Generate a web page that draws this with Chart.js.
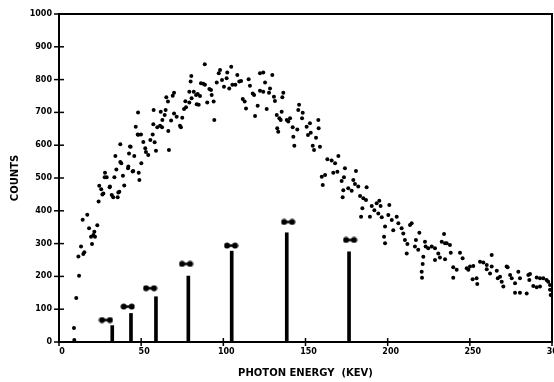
<!DOCTYPE html>
<html>
<head>
<meta charset="utf-8">
<script src="https://cdn.jsdelivr.net/npm/chart.js@4/dist/chart.umd.min.js"></script>
<style>
  html, body { margin: 0; padding: 0; background: #fff; }
  #wrap { width: 554px; height: 382px; }
</style>
</head>
<body>
<div id="wrap"><canvas id="c" width="554" height="382"></canvas></div>
<script>
// Measured spectrum: photon energy (keV) and counts for each channel point
const energy = [
  9.3, 9.1, 10.5, 12.2, 11.8, 13.4, 14.8, 15.4, 20.1, 19.5, 20.9, 21.9, 18.3, 23.3, 14.4, 17.2, 21.5,
  24.1, 24.5, 25.7, 27.0, 27.8, 29.0, 28.0, 30.8, 32.1, 33.0, 35.7, 36.7, 33.7, 34.9, 38.9, 39.7,
  37.3, 37.9, 34.3, 37.3, 42.0, 44.8, 42.6, 43.6, 48.5, 48.9, 50.1, 46.7, 48.1, 48.3, 49.9, 51.3,
  52.5, 52.9, 54.3, 55.6,
  26.4, 31.0, 36.1, 42.2, 45.2, 43.2, 45.8, 47.9,
  59.0, 66.9, 58.2, 57.0, 57.4, 59.8, 61.5, 62.7, 62.9, 66.5, 68.2, 70.0, 71.6, 73.6, 74.2, 75.0,
  76.1, 77.3, 76.9, 79.3, 80.7, 79.3, 82.0, 83.4, 83.8, 85.0, 84.4, 85.8, 64.9, 64.3, 65.3, 66.3,
  69.2, 70.0, 57.6, 61.9, 80.1, 80.5, 86.4, 87.8, 88.8, 88.7, 91.5, 92.5, 92.9, 94.1, 90.2, 94.5,
  96.0, 97.2, 98.0, 99.2, 100.4, 102.0, 102.4, 103.6, 104.8, 105.5, 107.3, 108.5, 109.7,
  122.3, 124.3, 129.8, 125.4, 115.4, 116.2, 110.8, 122.3, 124.3, 128.4, 127.8, 117.9, 118.7, 111.8,
  113.0, 113.8, 120.9, 126.4, 130.8, 131.4, 136.5, 135.9, 119.3, 132.5, 134.1, 134.9, 135.5, 138.6,
  140.6, 139.5, 132.8, 133.4, 142.2, 145.0, 146.1, 145.6, 148.3, 147.9, 142.6, 143.2, 150.7, 152.7,
  151.5, 153.2, 157.8, 158.0, 156.4, 154.4, 155.2, 158.8, 163.3, 161.9, 159.9, 160.5,
  170.0, 168.0, 165.9, 166.9, 169.4, 174.0, 180.7, 173.4, 172.0, 179.1, 180.1, 173.0, 176.0, 178.1,
  172.6, 182.1, 187.2, 183.2, 185.2, 186.8, 184.6, 183.8, 189.2, 190.3, 191.9, 193.3, 194.9, 195.7,
  194.3, 196.4, 201.0, 200.4, 202.5, 205.5, 198.4, 197.8, 198.4, 203.4, 206.5, 208.5, 209.5, 213.6,
  214.6, 210.5, 212.0, 211.6, 217.2, 219.3, 216.6, 218.6, 222.7, 223.1, 224.7, 221.7, 221.3, 220.7,
  220.9,
  234.3, 232.9, 234.9, 237.9, 226.8, 228.8, 230.8, 231.8, 234.9, 228.8, 238.4, 244.0, 245.6, 239.9,
  242.0, 239.9, 248.1, 250.1, 252.1, 256.2, 258.2, 263.3, 263.3, 260.3, 262.3, 251.7, 254.5, 266.4,
  267.0, 269.4, 273.0, 274.5, 275.5, 277.5, 279.5, 280.5, 277.5, 280.5, 284.6, 286.6, 286.2, 288.6,
  290.7, 292.7, 294.7, 296.7, 297.7, 298.8, 299.2,
  235.9, 260.3, 249.1, 254.1, 272.4, 285.6, 270.4, 290.7, 292.7, 298.8, 268.4
];
const counts = [
  6, 43, 134, 202, 261, 291, 268, 274, 299, 321, 326, 321, 347, 356, 373, 388, 336,
  428, 476, 466, 453, 502, 502, 516, 472, 448, 441, 441, 458, 502, 526, 507, 477,
  549, 545, 567, 603, 530, 520, 575, 595, 516, 494, 545, 656, 700, 632, 633, 610,
  591, 579, 570, 616,
  450, 474, 456, 535, 521, 596, 567, 633,
  583, 585, 609, 633, 664, 655, 659, 655, 677, 643, 675, 697, 687, 659, 655, 684,
  710, 716, 734, 730, 743, 763, 763, 753, 725, 723, 756, 750, 707, 692, 746, 733,
  751, 760, 707, 702, 794, 811, 789, 787, 784, 847, 771, 768, 753, 733, 730, 677,
  791, 819, 829, 799, 778, 804, 822, 773, 839, 784, 784, 814, 794,
  819, 822, 814, 791, 801, 781, 796, 766, 763, 773, 760, 758, 753, 741,
  733, 712, 720, 710, 748, 735, 760, 746, 689, 692, 682, 677, 702, 677,
  682, 672, 652, 641, 655, 648, 723, 707, 699, 682, 626, 598, 656, 667,
  631, 638, 677, 652, 623, 598, 585, 595, 557, 509, 504, 479,
  567, 545, 553, 516, 519, 530, 521, 502, 491, 494, 482, 463, 469, 461,
  441, 474, 472, 445, 438, 433, 408, 382, 382, 415, 402, 423, 431, 415,
  392, 380, 418, 387, 372, 382, 352, 321, 301, 341, 362, 347, 331, 357,
  362, 311, 299, 270, 311, 333, 291, 281, 306, 291, 286, 260, 238, 214,
  196,
  329, 306, 301, 296, 291, 286, 270, 258, 252, 250, 272, 272, 255, 228,
  220, 196, 225, 230, 232, 245, 242, 265, 230, 222, 209, 191, 177, 217,
  194, 184, 228, 204, 194, 179, 214, 194, 150, 150, 148, 207, 189, 171,
  197, 194, 194, 189, 184, 174, 143,
  301, 235, 220, 194, 230, 204, 169, 167, 169, 159, 199
];

// Line spectrum: energies and intensities of the emission lines
const lineEnergy = [32.4, 43.8, 59.0, 78.7, 105.1, 138.6, 176.5];
const lineCounts = [50, 87, 138, 201, 277, 333, 275];

// Markers placed above each line
const markEnergy = [28.6, 41.8, 55.4, 77.3, 104.7, 139.4, 177.1];
const markCounts = [67, 108, 164, 238, 294, 366, 311];

// Axis tick values
const xTicks = [0, 50, 100, 150, 200, 250, 300];
const yTicks = [0, 100, 200, 300, 400, 500, 600, 700, 800, 900, 1000];

const FONT = 'DejaVu Sans';

// Dumbbell-shaped marker symbol
function dumbbell() {
  const c = document.createElement('canvas');
  c.width = 15; c.height = 7;
  const g = c.getContext('2d');
  g.fillStyle = '#000';
  g.strokeStyle = '#000';
  g.lineWidth = 2.5;
  g.beginPath(); g.moveTo(3.5, 3.5); g.lineTo(11.5, 3.5); g.stroke();
  g.beginPath(); g.arc(3.5, 3.5, 3, 0, Math.PI * 2); g.fill();
  g.beginPath(); g.arc(11.5, 3.5, 3, 0, Math.PI * 2); g.fill();
  return c;
}

// Frame on top/right plus cross-shaped tick marks on both axes
const framePlugin = {
  id: 'frame',
  afterDraw(chart) {
    const { ctx, chartArea: a, scales: { x, y } } = chart;
    ctx.save();
    ctx.strokeStyle = '#000';
    ctx.lineWidth = 2;
    ctx.beginPath();
    ctx.moveTo(a.left, a.top);
    ctx.lineTo(a.right, a.top);
    ctx.lineTo(a.right, a.bottom);
    ctx.stroke();
    ctx.lineWidth = 1.5;
    y.ticks.forEach(t => {
      const py = y.getPixelForValue(t.value);
      ctx.beginPath(); ctx.moveTo(a.left - 5, py); ctx.lineTo(a.left + 5, py); ctx.stroke();
    });
    x.ticks.forEach(t => {
      const px = x.getPixelForValue(t.value);
      ctx.beginPath(); ctx.moveTo(px, a.bottom - 4); ctx.lineTo(px, a.bottom + 4); ctx.stroke();
    });
    ctx.restore();
  }
};

new Chart(document.getElementById('c'), {
  type: 'scatter',
  data: {
    datasets: [
      {
        type: 'scatter',
        data: energy.map((e, i) => ({ x: e, y: counts[i] })),
        pointRadius: 2,
        pointBackgroundColor: '#000',
        pointBorderWidth: 0,
        showLine: false
      },
      {
        type: 'bar',
        data: lineEnergy.map((e, i) => ({ x: e, y: lineCounts[i] })),
        backgroundColor: '#000',
        borderWidth: 0,
        barThickness: 3
      },
      {
        type: 'scatter',
        data: markEnergy.map((e, i) => ({ x: e, y: markCounts[i] })),
        pointStyle: dumbbell(),
        pointRadius: 5,
        showLine: false
      }
    ]
  },
  options: {
    responsive: false,
    animation: false,
    devicePixelRatio: 1,
    layout: { autoPadding: false, padding: { top: 14, right: 2, left: 0, bottom: 0 } },
    plugins: { legend: { display: false }, tooltip: { enabled: false } },
    scales: {
      x: {
        type: 'linear', min: 0, max: 300, offset: false,
        afterBuildTicks: s => { s.ticks = xTicks.map(v => ({ value: v })); },
        ticks: { padding: 5, labelOffset: 3, color: '#000', maxRotation: 0, autoSkip: false,
                 callback: v => String(v),
                 font: { family: FONT, weight: 'bold', size: 8 } },
        grid: { display: true, drawOnChartArea: false, drawTicks: false, color: 'rgba(0,0,0,0)' },
        border: { display: true, color: '#000', width: 2 },
        title: { display: true, text: 'PHOTON ENERGY  (KEV)', color: '#000',
                 font: { family: FONT, weight: 'bold', size: 10 }, padding: { top: 0, bottom: 3 } },
        afterFit(s) { s.height = 40; s.paddingLeft = 0; s.paddingRight = 0; }
      },
      y: {
        type: 'linear', min: 0, max: 1000,
        afterBuildTicks: s => { s.ticks = yTicks.map(v => ({ value: v })); },
        ticks: { padding: 7, color: '#000', autoSkip: false,
                 callback: v => String(v),
                 font: { family: FONT, weight: 'bold', size: 8 } },
        grid: { display: true, drawOnChartArea: false, drawTicks: false, color: 'rgba(0,0,0,0)' },
        border: { display: true, color: '#000', width: 2 },
        title: { display: true, text: 'COUNTS', color: '#000',
                 font: { family: FONT, weight: 'bold', size: 10 }, padding: { top: 9, bottom: 0 } },
        afterFit(s) { s.width = 59; s.paddingTop = 0; s.paddingBottom = 0; }
      }
    }
  },
  plugins: [framePlugin]
});
</script>
</body>
</html>
